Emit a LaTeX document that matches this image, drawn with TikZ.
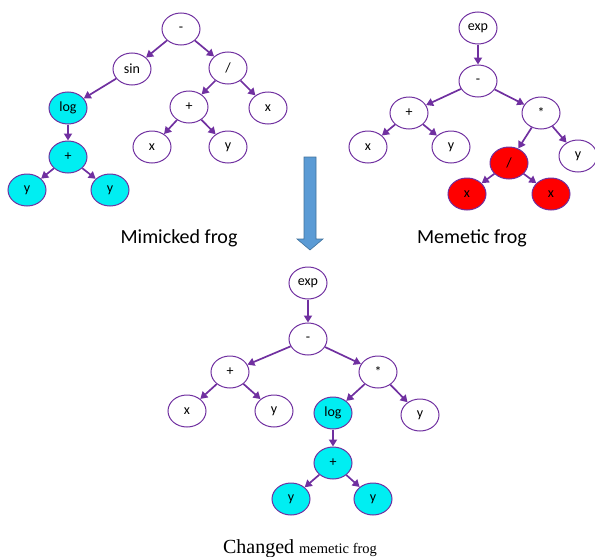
\documentclass[tikz,border=0pt]{standalone}
\usepackage{fontspec}
\setmainfont{Carlito}
\newfontfamily\capfont{Liberation Serif}
\usetikzlibrary{shapes.geometric,arrows.meta}
\definecolor{edgepurple}{HTML}{7030A0}
\definecolor{cyanfill}{HTML}{00EEF2}
\definecolor{redfill}{HTML}{FF0000}
\definecolor{arrowblue}{HTML}{5B9BD5}
\definecolor{arrowedge}{HTML}{41719C}
\tikzset{
  tn/.style={ellipse, draw=edgepurple, line width=1pt, fill=white,
    minimum width=38pt, minimum height=32pt, inner sep=0pt,
    font=\fontsize{14}{15}\selectfont},
  cn/.style={tn, fill=cyanfill},
  rn/.style={tn, fill=redfill},
  ed/.style={draw=edgepurple, line width=1.7pt,
    -{Triangle[width=8pt,length=7pt]}},
  lab/.style={font=\fontsize{20}{22}\selectfont, inner sep=0pt}
}
\begin{document}
\begin{tikzpicture}[x=1pt,y=-1pt]
\useasboundingbox (0,0) rectangle (595,557);
% Left tree: Mimicked frog
\node[tn] (lm) at (181,29) {-};
\node[tn] (lsin) at (132,69) {sin};
\node[tn] (ldiv) at (228,68) {/};
\node[cn] (llog) at (68,108) {log};
\node[tn] (lxr) at (268,108) {x};
\node[tn] (lplus) at (189,107) {+};
\node[tn] (lx) at (152,147) {x};
\node[tn] (ly) at (228,147) {y};
\node[cn] (lcplus) at (68,157) {+};
\node[cn] (lya) at (27,190) {y};
\node[cn] (lyb) at (110,190) {y};
\draw[ed] (lm) -- (lsin);
\draw[ed] (lm) -- (ldiv);
\draw[ed] (lsin) -- (llog);
\draw[ed] (llog) -- (lcplus);
\draw[ed] (lcplus) -- (lya);
\draw[ed] (lcplus) -- (lyb);
\draw[ed] (ldiv) -- (lplus);
\draw[ed] (ldiv) -- (lxr);
\draw[ed] (lplus) -- (lx);
\draw[ed] (lplus) -- (ly);
\node[lab] (lcap) at (179,238) {Mimicked frog};
% Right tree: Memetic frog
\node[tn] (rexp) at (478,28) {exp};
\node[tn] (rm) at (478,81) {-};
\node[tn] (rplus) at (409,113) {+};
\node[tn] (rtimes) at (541,113) {*};
\node[tn] (rx) at (368,147) {x};
\node[tn] (ry) at (451,147) {y};
\node[rn] (rdiv) at (509,163) {/};
\node[tn] (ryr) at (578,156) {y};
\node[rn] (rxa) at (467,194) {x};
\node[rn] (rxb) at (551,194) {x};
\draw[ed] (rexp) -- (rm);
\draw[ed] (rm) -- (rplus);
\draw[ed] (rm) -- (rtimes);
\draw[ed] (rplus) -- (rx);
\draw[ed] (rplus) -- (ry);
\draw[ed] (rtimes) -- (rdiv);
\draw[ed] (rtimes) -- (ryr);
\draw[ed] (rdiv) -- (rxa);
\draw[ed] (rdiv) -- (rxb);
\node[lab] (rcap) at (472,238) {Memetic frog};
% Blue block arrow
\filldraw[fill=arrowblue, draw=arrowedge, line width=0.6pt]
  (304,157) -- (316,157) -- (316,239) -- (323,239) -- (310,250)
  -- (297,239) -- (304,239) -- cycle;
% Bottom tree: Changed memetic frog
\node[tn] (bexp) at (308,283) {exp};
\node[tn] (bm) at (308,339) {-};
\node[tn] (bplus) at (230,372) {+};
\node[tn] (btimes) at (378,372) {*};
\node[tn] (bx) at (187,411) {x};
\node[tn] (by) at (274,411) {y};
\node[cn] (blog) at (333,413) {log};
\node[tn] (byr) at (420,415) {y};
\node[cn] (bcplus) at (333,463) {+};
\node[cn] (bya) at (291,499) {y};
\node[cn] (byb) at (373,499) {y};
\draw[ed] (bexp) -- (bm);
\draw[ed] (bm) -- (bplus);
\draw[ed] (bm) -- (btimes);
\draw[ed] (bplus) -- (bx);
\draw[ed] (bplus) -- (by);
\draw[ed] (btimes) -- (blog);
\draw[ed] (btimes) -- (byr);
\draw[ed] (blog) -- (bcplus);
\draw[ed] (bcplus) -- (bya);
\draw[ed] (bcplus) -- (byb);
\node[inner sep=0pt, anchor=base] (bcap) at (300,553)
  {\capfont\fontsize{20}{22}\selectfont Changed \fontsize{14.5}{16}\selectfont memetic frog};
\end{tikzpicture}
\end{document}
